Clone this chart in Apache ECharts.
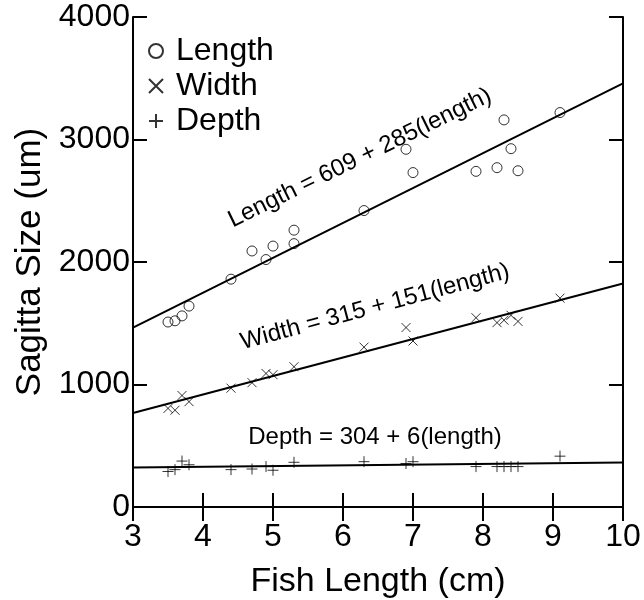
<!DOCTYPE html>
<html>
<head>
<meta charset="utf-8">
<script src="https://cdn.jsdelivr.net/npm/echarts@6/dist/echarts.min.js"></script>
<style>
  html, body { margin: 0; padding: 0; background: #fff; }
  #main { width: 644px; height: 600px; }
</style>
</head>
<body>
<div id="main"></div>
<script>
(function(){
    // 鱼体长 (cm)
    var lenX = [3.5, 3.6, 3.7, 3.8, 4.4, 4.7, 4.9, 5.0, 5.3, 5.3, 6.3, 6.9, 7.0, 7.9, 8.2, 8.3, 8.4, 8.5, 9.1];
    var lenY = [1510, 1520, 1560, 1640, 1860, 2090, 2020, 2130, 2150, 2260, 2420, 2920, 2730, 2740, 2770, 3160, 2925, 2745, 3220];

    var widX = [3.5, 3.6, 3.7, 3.8, 4.4, 4.7, 4.9, 5.0, 5.3, 6.3, 6.9, 7.0, 7.9, 8.2, 8.3, 8.4, 8.5, 9.1];
    var widY = [805, 790, 910, 860, 970, 1015, 1090, 1080, 1145, 1305, 1465, 1355, 1545, 1505, 1525, 1565, 1515, 1705];

    var depX = [3.5, 3.6, 3.7, 3.8, 4.4, 4.7, 4.9, 5.0, 5.3, 6.3, 6.9, 7.0, 7.9, 8.2, 8.3, 8.4, 8.5, 9.1];
    var depY = [290, 305, 375, 345, 305, 310, 330, 300, 365, 370, 355, 370, 330, 330, 330, 330, 330, 415];

    // 回归方程: 截距 + 斜率 * length
    var fitNames = ['Length', 'Width', 'Depth'];
    var intercepts = [609, 315, 304];
    var slopes = [285, 151, 6];
    var fitRange = [3, 10];

    var xTicks = [3, 10, 1];     // min, max, interval
    var yTicks = [0, 4000, 1000];

    var font = '"Liberation Sans", Arial, Helvetica, sans-serif';

    function pairs(xs, ys){
        return xs.map(function(x, i){ return [x, ys[i]]; });
    }
    function fitLine(i){
        return fitRange.map(function(x){ return [x, intercepts[i] + slopes[i] * x]; });
    }

    var symbols = {
        Length: 'circle',
        Width: 'path://M0,0L10,10M10,0L0,10',
        Depth: 'path://M5,0L5,10M0,5L10,5'
    };

    var markStyle = {
        color: 'transparent',
        borderColor: '#000',
        borderWidth: 1
    };

    var axisLine = { show: true, lineStyle: { color: '#000', width: 2 } };
    var axisTick = { show: true, inside: true, length: 14, lineStyle: { color: '#000', width: 2 } };

    var chart = echarts.init(document.getElementById('main'));

    var series = [
        { name: 'Length', type: 'scatter', symbol: symbols.Length, symbolSize: 10, itemStyle: markStyle, data: pairs(lenX, lenY), z: 3 },
        { name: 'Width', type: 'scatter', symbol: symbols.Width, symbolSize: 9, itemStyle: markStyle, data: pairs(widX, widY), z: 3 },
        { name: 'Depth', type: 'scatter', symbol: symbols.Depth, symbolSize: 11, itemStyle: markStyle, data: pairs(depX, depY), z: 3 }
    ];
    fitNames.forEach(function(n, i){
        series.push({
            name: n + ' fit', type: 'line', data: fitLine(i),
            symbol: 'none', silent: true,
            lineStyle: { color: '#000', width: 2 }, z: 2
        });
    });

    var option = {
        animation: false,
        backgroundColor: '#fff',
        textStyle: { fontFamily: font, color: '#000' },
        grid: { left: 133, right: 21, top: 17, bottom: 93, containLabel: false, outerBoundsMode: 'none' },
        legend: {
            left: 143, top: 30, orient: 'vertical',
            itemWidth: 14, itemHeight: 14, itemGap: 3,
            selectedMode: false,
            textStyle: { fontSize: 32, fontFamily: font, color: '#000', padding: [0, 0, 0, 8] },
            data: [
                { name: 'Length', icon: symbols.Length },
                { name: 'Width', icon: symbols.Width },
                { name: 'Depth', icon: symbols.Depth }
            ]
        },
        xAxis: [{
            type: 'value', min: xTicks[0], max: xTicks[1], interval: xTicks[2],
            name: 'Fish Length (cm)', nameLocation: 'middle', nameGap: 58,
            nameTextStyle: { fontSize: 34, fontFamily: font, color: '#000' },
            axisLine: axisLine, axisTick: axisTick, splitLine: { show: false },
            axisLabel: { fontSize: 32, fontFamily: font, color: '#000', margin: 14 }
        }, {
            type: 'value', position: 'top', min: xTicks[0], max: xTicks[1], interval: xTicks[2],
            axisLine: axisLine, axisTick: axisTick, splitLine: { show: false },
            axisLabel: { show: false }
        }],
        yAxis: [{
            type: 'value', min: yTicks[0], max: yTicks[1], interval: yTicks[2],
            name: 'Sagitta Size (um)', nameLocation: 'middle', nameGap: 82,
            nameTextStyle: { fontSize: 35, fontFamily: font, color: '#000' },
            axisLine: axisLine, axisTick: axisTick, splitLine: { show: false },
            axisLabel: { fontSize: 32, fontFamily: font, color: '#000', margin: 3,
                padding: [6, 0, 0, 0],
                formatter: function(v){ return String(v); } }
        }, {
            type: 'value', position: 'right', min: yTicks[0], max: yTicks[1], interval: yTicks[2],
            axisLine: axisLine, axisTick: axisTick, splitLine: { show: false },
            axisLabel: { show: false }
        }],
        graphic: [
            { type: 'text', x: 360, y: 158, rotation: 26 * Math.PI / 180,
              style: { text: 'Length = 609 + 285(length)', font: '24px ' + font, fill: '#000', align: 'center', verticalAlign: 'middle' } },
            { type: 'text', x: 375, y: 307, rotation: 15 * Math.PI / 180,
              style: { text: 'Width = 315 + 151(length)', font: '24px ' + font, fill: '#000', align: 'center', verticalAlign: 'middle' } },
            { type: 'text', x: 375, y: 437,
              style: { text: 'Depth = 304 + 6(length)', font: '24px ' + font, fill: '#000', align: 'center', verticalAlign: 'middle' } }
        ],
        series: series
    };

    chart.setOption(option);
})();
</script>
</body>
</html>
